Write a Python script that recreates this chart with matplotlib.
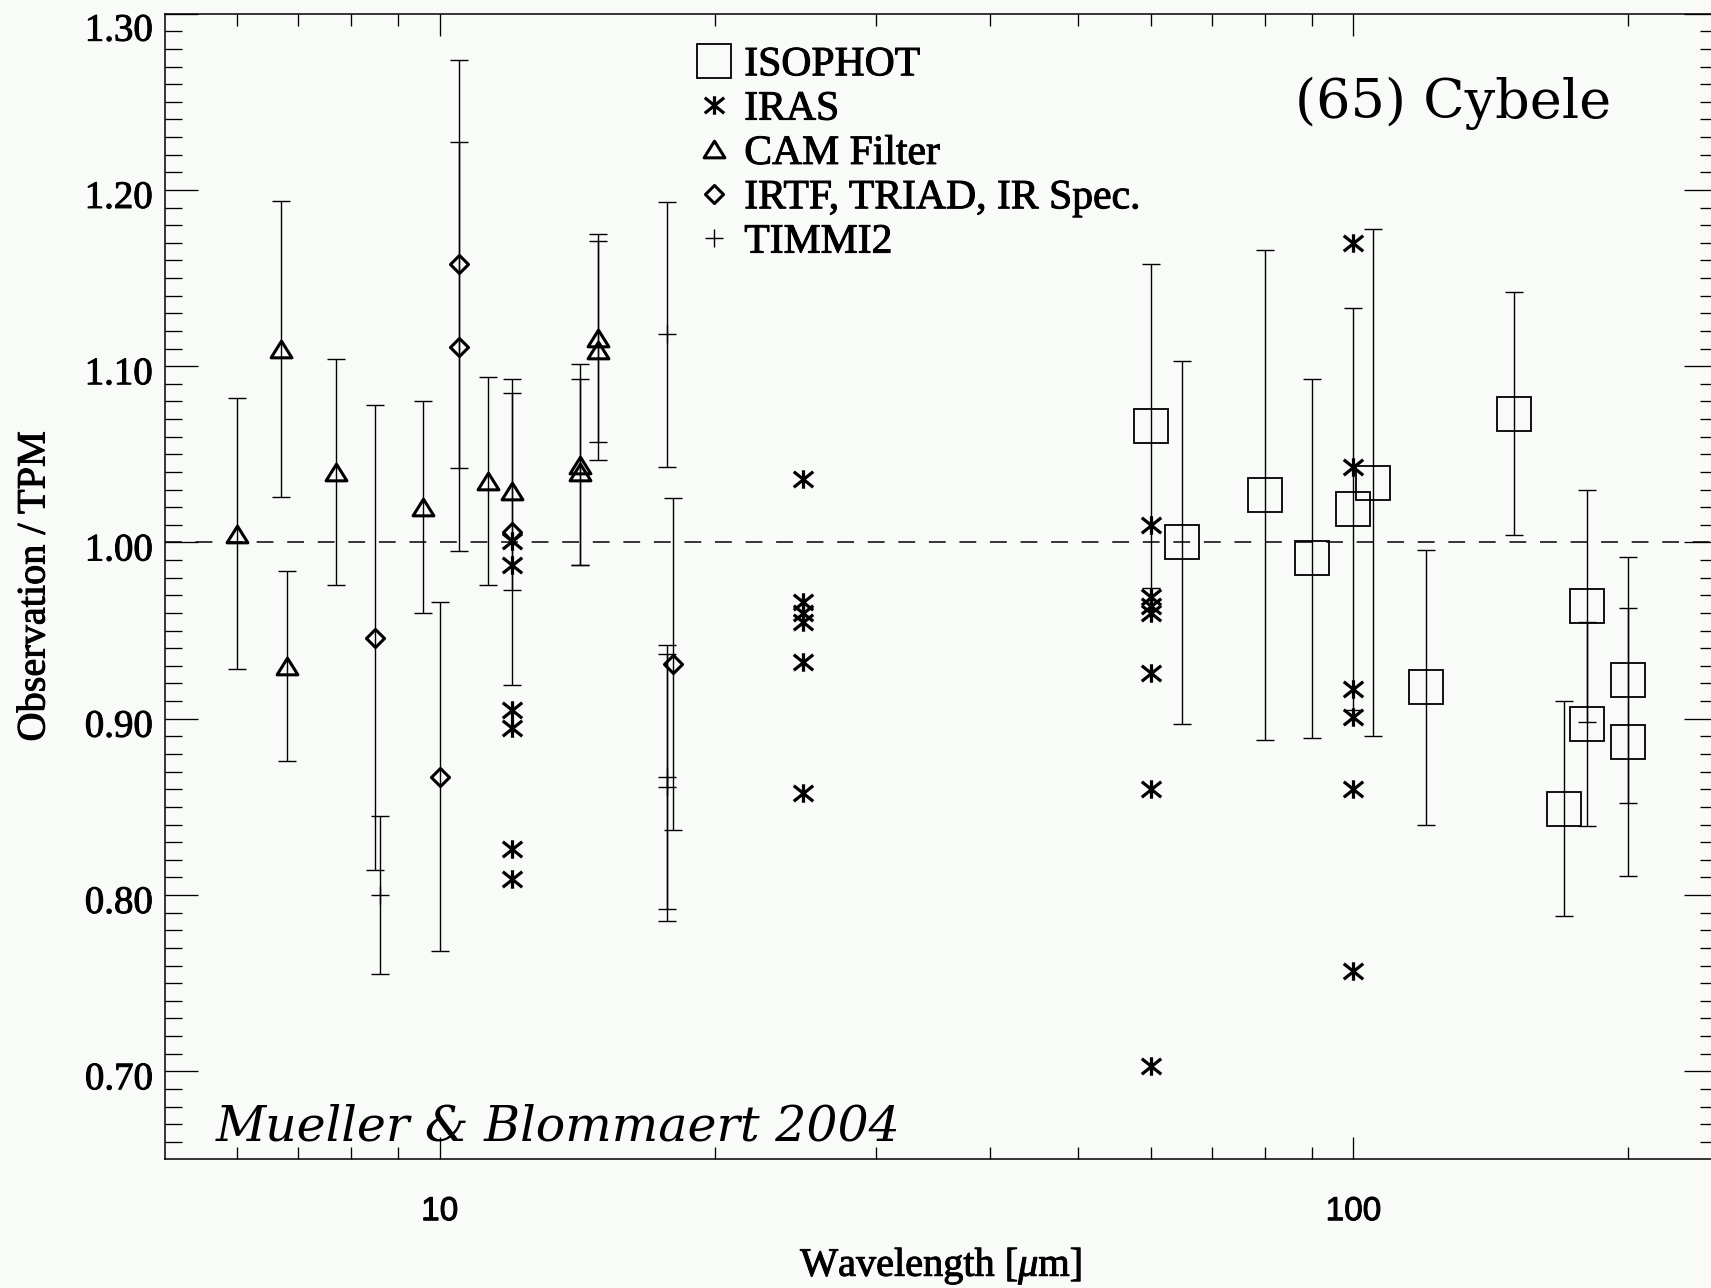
import numpy as np
import matplotlib
matplotlib.use('Agg')
import matplotlib.pyplot as plt
from matplotlib.path import Path
from matplotlib.ticker import FixedLocator, FixedFormatter, NullFormatter, FormatStrFormatter
from matplotlib.font_manager import FontProperties
from matplotlib.transforms import ScaledTranslation
import matplotlib.patheffects as pe

W, H, DPI = 1711, 1288, 100

# ---------------- data ----------------
# ISOPHOT (squares)
iso_wl  = [60, 65, 80, 90, 100, 105, 120, 150, 170, 180, 180, 200, 200]
iso_val = [1.066, 1.000, 1.027, 0.991, 1.019, 1.034, 0.918, 1.073, 0.849, 0.964, 0.897, 0.922, 0.887]
iso_err = [0.092, 0.103, 0.139, 0.102, 0.114, 0.144, 0.078, 0.069, 0.061, 0.066, 0.058, 0.070, 0.076]

# IRAS (asterisks, no error bars)
iras_wl  = [12, 12, 12, 12, 12, 12,
            25, 25, 25, 25, 25, 25,
            60, 60, 60, 60, 60, 60, 60,
            100, 100, 100, 100, 100, 100]
iras_val = [1.001, 0.987, 0.905, 0.895, 0.826, 0.809,
            1.036, 0.966, 0.960, 0.955, 0.932, 0.858,
            1.010, 0.969, 0.964, 0.960, 0.926, 0.860, 0.703,
            1.170, 1.043, 0.917, 0.901, 0.860, 0.757]

# CAM filter (triangles)
cam_wl  = [6.0, 6.7, 6.8, 7.7, 9.6, 11.3, 12.0, 14.25, 14.25, 14.9, 14.9]
cam_val = [1.005, 1.110, 0.930, 1.040, 1.020, 1.035, 1.029, 1.044, 1.040, 1.116, 1.109]
cam_err = [0.077, 0.084, 0.054, 0.064, 0.060, 0.059, 0.056, 0.057, 0.053, 0.059, 0.062]

# IRTF, TRIAD, IR Spec. (diamonds)
irtf_wl  = [8.5, 10.0, 10.5, 10.5, 12.0, 18.0]
irtf_val = [0.946, 0.867, 1.158, 1.111, 1.006, 0.931]
irtf_err = [0.132, 0.099, 0.116, 0.116, 0.087, 0.094]

# TIMMI2 (plus)
timmi_wl  = [8.6, 17.75, 17.75, 17.75]
timmi_val = [0.800, 1.118, 0.867, 0.861]
timmi_err = [0.045, 0.075, 0.075, 0.076]

xtick_major = [10, 100]
xtick_labels = ['10', '100']
xtick_minor = [6, 7, 8, 9, 20, 30, 40, 50, 60, 70, 80, 90, 200]
ytick_major = [0.70, 0.80, 0.90, 1.00, 1.10, 1.20, 1.30]
ytick_minor = list(np.round(np.arange(0.66, 1.30, 0.01), 2))

legend_labels = ['ISOPHOT', 'IRAS', 'CAM Filter', 'IRTF, TRIAD, IR Spec.', 'TIMMI2']

# ---------------- style ----------------
plt.rcParams['font.family'] = ['Liberation Serif', 'DejaVu Serif']
plt.rcParams['mathtext.fontset'] = 'custom'
plt.rcParams['mathtext.rm'] = 'Liberation Serif'
plt.rcParams['mathtext.it'] = 'Liberation Serif:italic'
BG = '#f8fbf8'
bold = [pe.withStroke(linewidth=0.7, foreground='k')]

fig = plt.figure(figsize=(W / DPI, H / DPI), dpi=DPI, facecolor=BG)
ax_l, ax_r, ax_t, ax_b = 164.6, 1717.0, 13.7, 1159.4
ax = fig.add_axes([ax_l / W, 1 - ax_b / H, (ax_r - ax_l) / W, (ax_b - ax_t) / H])
ax.set_facecolor(BG)
ax.set_xscale('log')
ax.set_xlim(5, 250)
ax.set_ylim(0.65, 1.30)

# markers
tri = Path([(0, 0.8), (-1, -0.8), (1, -0.8), (0, 0.8)],
           [Path.MOVETO, Path.LINETO, Path.LINETO, Path.CLOSEPOLY])
dia = Path([(0, 1), (1, 0), (0, -1), (-1, 0), (0, 1)],
           [Path.MOVETO, Path.LINETO, Path.LINETO, Path.LINETO, Path.CLOSEPOLY])
star = Path([(0, -0.95), (0, 0.95), (-1, -0.8), (1, 0.8), (-1, 0.8), (1, -0.8)],
            [Path.MOVETO, Path.LINETO, Path.MOVETO, Path.LINETO, Path.MOVETO, Path.LINETO])

ax.axhline(1.0, color='k', lw=1.1, ls=(0, (11, 9)), zorder=1)

eb = dict(fmt='none', ecolor='k', elinewidth=1.0, capsize=6.2, capthick=1.0, zorder=2)
ax.errorbar(iso_wl, iso_val, yerr=iso_err, **eb)
ax.errorbar(cam_wl, cam_val, yerr=cam_err, **eb)
ax.errorbar(irtf_wl, irtf_val, yerr=irtf_err, **eb)
ax.errorbar(timmi_wl, timmi_val, yerr=timmi_err, **eb)

h_iso, = ax.plot(iso_wl, iso_val, ls='none', marker='s', ms=24, mfc='none', mec='k', mew=1.3, zorder=3)
h_iras, = ax.plot(iras_wl, iras_val, ls='none', marker=star, ms=14, mfc='none', mec='k', mew=2.3, zorder=3)
h_cam, = ax.plot(cam_wl, cam_val, ls='none', marker=tri, ms=15, mfc='none', mec='k', mew=2.2, zorder=3)
h_irtf, = ax.plot(irtf_wl, irtf_val, ls='none', marker=dia, ms=13, mfc='none', mec='k', mew=2.2, zorder=3)
h_tim, = ax.plot(timmi_wl, timmi_val, ls='none', marker='+', ms=13, mec='k', mew=1.0, zorder=3)

# axes / ticks
for s in ax.spines.values():
    s.set_linewidth(1.1)
ax.xaxis.set_major_locator(FixedLocator(xtick_major))
ax.xaxis.set_major_formatter(FixedFormatter(xtick_labels))
ax.xaxis.set_minor_locator(FixedLocator(xtick_minor))
ax.xaxis.set_minor_formatter(NullFormatter())
ax.yaxis.set_major_locator(FixedLocator(ytick_major))
ax.yaxis.set_major_formatter(FormatStrFormatter('%.2f'))
ax.yaxis.set_minor_locator(FixedLocator(ytick_minor))
ax.tick_params(which='both', direction='in', top=True, right=True, width=0.95, color='k')
ax.tick_params(axis='y', which='major', length=23.8, labelsize=28, pad=8.5)
ax.tick_params(axis='y', which='minor', length=12.5)
ax.tick_params(axis='x', which='major', length=15.8, labelsize=24, pad=26.5)
ax.tick_params(axis='x', which='minor', length=8.3)
for lbl in ax.get_xticklabels():
    lbl.set_fontfamily('Liberation Sans')
    lbl.set_path_effects(bold)
yticks = ax.yaxis.get_major_ticks()
for t in yticks:
    t.label1.set_path_effects(bold)
    t.label1.set_transform(t.label1.get_transform() + ScaledTranslation(0, -0.04, fig.dpi_scale_trans))
# top label sits lower, inside the figure
yticks[-1].label1.set_transform(yticks[-1].label1.get_transform() + ScaledTranslation(0, -0.09, fig.dpi_scale_trans))

# legend
leg = ax.legend([h_iso, h_iras, h_cam, h_irtf, h_tim], legend_labels,
                loc='upper left', bbox_to_anchor=(0.3412, 0.972), frameon=False,
                borderpad=0, borderaxespad=0, handlelength=0.95, handletextpad=0.25,
                labelspacing=0.14, numpoints=1,
                prop=FontProperties(family='Liberation Serif', size=30))
for t in leg.get_texts():
    t.set_path_effects(bold)

# texts
fig.text(1294.9 / W, 1 - 118 / H, '(65) Cybele', family='DejaVu Serif', size=39,
         ha='left', va='baseline')
fig.text(215.6 / W, 1 - 1140.6 / H, 'Mueller & Blommaert 2004', family='DejaVu Serif',
         style='italic', size=35.3, ha='left', va='baseline')
fig.text(941 / W, 1 - 1276 / H, 'Wavelength [$\\mu$m]', size=29, ha='center', va='baseline',
         path_effects=bold)
fig.text(35 / W, 1 - 586.5 / H, 'Observation / TPM', size=29, rotation=90,
         ha='center', va='center', path_effects=bold)

fig.savefig('out.png', dpi=DPI, facecolor=BG)
